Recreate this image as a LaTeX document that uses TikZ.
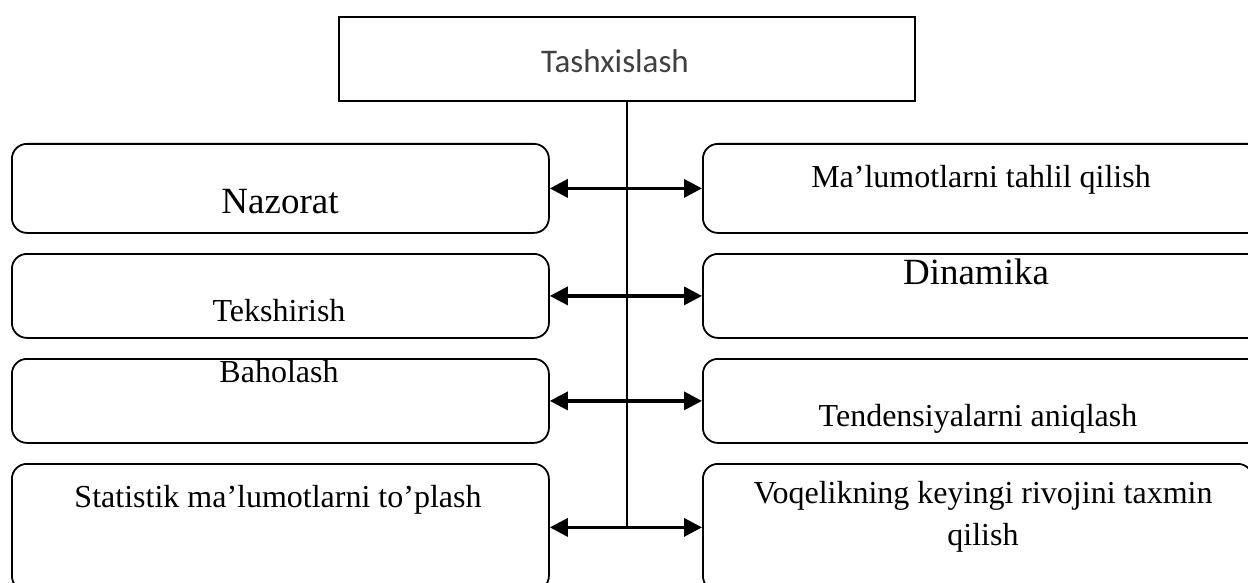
\documentclass[tikz,border=0pt]{standalone}
\usepackage{fontspec}
\setmainfont{Liberation Serif}
\newfontfamily\calibri{Carlito}
\usetikzlibrary{arrows.meta}
\begin{document}
\begin{tikzpicture}[x=1pt,y=-1pt,
  box/.style={draw,line width=1.8pt,rounded corners=15pt,inner sep=0pt,anchor=north west},
  topbox/.style={draw,line width=1.8pt,inner sep=0pt,anchor=north west},
  lbl/.style={anchor=base,inner sep=0pt,font=\fontsize{32}{42}\selectfont},
  big/.style={anchor=base,inner sep=0pt,font=\fontsize{37}{44}\selectfont},
  arr/.style={line width=3.4pt,{Triangle[length=18pt,width=18pt]}-{Triangle[length=18pt,width=18pt]}},
  vline/.style={line width=2pt}]
\useasboundingbox (0,0) rectangle (1248,583);
\clip (0,0) rectangle (1248,583);
% top box
\node[topbox,minimum width=576pt,minimum height=84pt] (T) at (338,16) {};
\node[anchor=base,inner sep=0pt,text=black!75,font=\calibri\fontsize{33}{40}\selectfont] (Tt) at (615,73) {Tashxislash};
% left boxes
\node[box,minimum width=537pt,minimum height=89pt] (L1) at (11,143) {};
\node[box,minimum width=537pt,minimum height=84pt] (L2) at (11,253) {};
\node[box,minimum width=537pt,minimum height=84pt] (L3) at (11,358) {};
\node[box,minimum width=537pt,minimum height=127pt] (L4) at (11,463) {};
% right boxes
\node[box,minimum width=560pt,minimum height=89pt] (R1) at (702,143) {};
\node[box,minimum width=560pt,minimum height=84pt] (R2) at (702,253) {};
\node[box,minimum width=560pt,minimum height=84pt] (R3) at (702,358) {};
\node[box,minimum width=550pt,minimum height=127pt] (R4) at (702,463) {};
% texts
\node[big] (L1t) at (280,213) {Nazorat};
\node[lbl] (L2t) at (279,321) {Tekshirish};
\node[lbl] (L3t) at (279,382) {Baholash};
\node[lbl] (L4t) at (278,507) {Statistik ma’lumotlarni to’plash};
\node[lbl] (R1t) at (981,188) {Ma’lumotlarni tahlil qilish};
\node[big] (R2t) at (976,284) {Dinamika};
\node[lbl] (R3t) at (978,426) {Tendensiyalarni aniqlash};
\node[lbl] (R4t) at (983,503) {Voqelikning keyingi rivojini taxmin};
\node[lbl] (R4u) at (983,545) {qilish};
% connectors
\coordinate (J) at (T.south |- L4.east);
\draw[vline] (T.south) -- (J);
\draw[arr] (L1.east) -- (L1.east -| R1.west);
\draw[arr] (L2.east) -- (L2.east -| R2.west);
\draw[arr] (L3.east) -- (L3.east -| R3.west);
\draw[arr] (L4.east) -- (L4.east -| R4.west);
\end{tikzpicture}
\end{document}
